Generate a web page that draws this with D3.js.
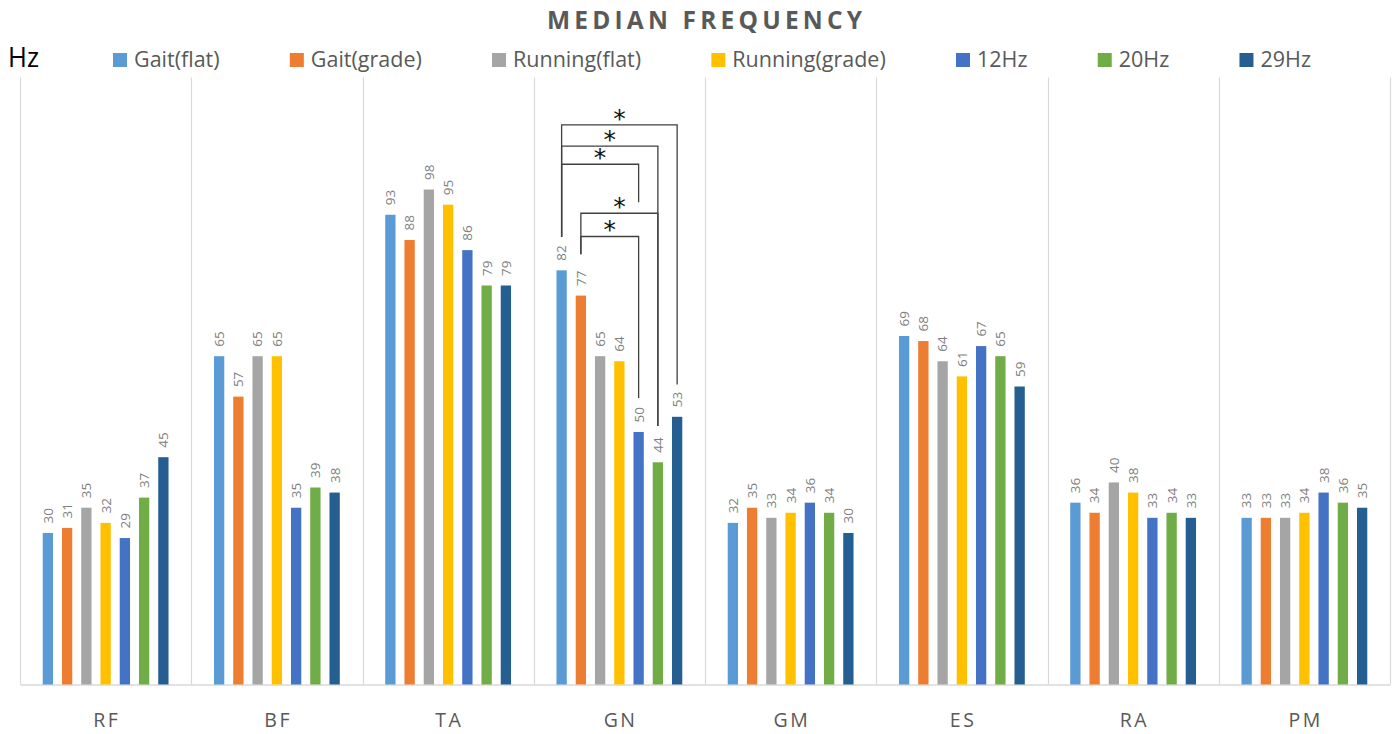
<!DOCTYPE html>
<html>
<head>
<meta charset="utf-8">
<script src="https://cdn.jsdelivr.net/npm/d3@7"></script>
<style>
  html, body { margin: 0; padding: 0; background: #fff; }
  svg { display: block; }
</style>
</head>
<body>
<svg id="chart" width="1397" height="734"></svg>
<script>
// ---------------- data ----------------
const categories = ["RF", "BF", "TA", "GN", "GM", "ES", "RA", "PM"];
const seriesNames = ["Gait(flat)", "Gait(grade)", "Running(flat)", "Running(grade)", "12Hz", "20Hz", "29Hz"];
const seriesColors = ["#5B9BD5", "#ED7D31", "#A5A5A5", "#FFC000", "#4472C4", "#70AD47", "#255E91"];

const gaitFlat      = [30, 65, 93, 82, 32, 69, 36, 33];
const gaitGrade     = [31, 57, 88, 77, 35, 68, 34, 33];
const runningFlat   = [35, 65, 98, 65, 33, 64, 40, 33];
const runningGrade  = [32, 65, 95, 64, 34, 61, 38, 34];
const hz12          = [29, 35, 86, 50, 36, 67, 33, 38];
const hz20          = [37, 39, 79, 44, 34, 65, 34, 36];
const hz29          = [45, 38, 79, 53, 30, 59, 33, 35];
const seriesValues = [gaitFlat, gaitGrade, runningFlat, runningGrade, hz12, hz20, hz29];

const yMax = 120;
const titleText = "MEDIAN FREQUENCY";
const yUnit = "Hz";

// significance brackets in GN (series indices, level and leg ends in Hz units)
const bracketCategory = "GN";
const bracketPairs  = [[0, 6], [0, 5], [0, 4], [1, 5], [1, 4]];
const bracketLevels = [110.8, 106.6, 103.0, 93.3, 88.7];
const bracketLeftEnds  = [88.6, 88.6, 88.6, 85.2, 85.2];
const bracketRightEnds = [59.4, 51.2, 95.5, 51.2, 56.7];
const bracketMark = "*";

// ---------------- layout ----------------
const svg = d3.select("#chart");
const plot = { left: 20, right: 1390, top: 78.4, bottom: 684.5 };
const font = "'Open Sans', 'Noto Sans', sans-serif";

const x0 = d3.scaleBand().domain(categories).range([plot.left, plot.right]).paddingInner(0).paddingOuter(0);
const x1 = d3.scaleBand().domain(d3.range(seriesNames.length)).range([0, x0.bandwidth()])
  .paddingInner(0.465).paddingOuter(1.18);
const y = d3.scaleLinear().domain([0, yMax]).range([plot.bottom, plot.top]);

// vertical separators (category boundaries)
const bounds = categories.map(c => x0(c)).concat([x0(categories[categories.length - 1]) + x0.bandwidth()]);
svg.append("g").selectAll("line").data(bounds).join("line")
  .attr("x1", d => Math.round(d) + 0.5).attr("x2", d => Math.round(d) + 0.5)
  .attr("y1", plot.top - 1).attr("y2", plot.bottom)
  .attr("stroke", "#d9d9d9").attr("stroke-width", 1.2);

// category axis
const xAxis = d3.axisBottom(x0).tickSize(0).tickPadding(0);
const gx = svg.append("g").attr("transform", `translate(0,${plot.bottom})`).call(xAxis);
gx.select(".domain").attr("stroke", "#d9d9d9").attr("stroke-width", 1.5);
gx.selectAll(".tick text")
  .attr("y", 42.5).attr("dy", 0)
  .attr("font-family", font).attr("font-size", 19.5).attr("fill", "#595959")
  .attr("letter-spacing", "2.5px").attr("dx", "1.25px");

// bars
const flat = [];
categories.forEach((c, ci) => seriesNames.forEach((s, si) => flat.push({ c, ci, si, v: seriesValues[si][ci] })));

const gBars = svg.append("g");
gBars.selectAll("rect").data(flat).join("rect")
  .attr("x", d => x0(d.c) + x1(d.si))
  .attr("width", x1.bandwidth())
  .attr("y", d => y(d.v))
  .attr("height", d => y(0) - y(d.v))
  .attr("fill", d => seriesColors[d.si]);

// data labels (rotated)
gBars.selectAll("text").data(flat).join("text")
  .attr("transform", d => `translate(${x0(d.c) + x1(d.si) + x1.bandwidth() / 2},${y(d.v) - 9.5}) rotate(-90)`)
  .attr("dy", "0.36em")
  .attr("text-anchor", "start")
  .attr("font-family", font).attr("font-size", 13.5).attr("fill", "#808080")
  .text(d => Math.round(d.v));

// significance brackets
const bx = si => x0(bracketCategory) + x1(si) + x1.bandwidth() / 2;
const gBr = svg.append("g").attr("fill", "none").attr("stroke", "#404040").attr("stroke-width", 1.3);
bracketPairs.forEach((p, i) => {
  const xa = bx(p[0]), xb = bx(p[1]), ly = y(bracketLevels[i]);
  const path = d3.path();
  path.moveTo(xa, y(bracketLeftEnds[i]));
  path.lineTo(xa, ly);
  path.lineTo(xb, ly);
  path.lineTo(xb, y(bracketRightEnds[i]));
  gBr.append("path").attr("d", path.toString());
  svg.append("text")
    .attr("x", (xa + xb) / 2).attr("y", ly + 2)
    .attr("text-anchor", "middle")
    .attr("font-family", "'DejaVu Sans', sans-serif").attr("font-size", 25).attr("fill", "#111")
    .text(bracketMark);
});

// title
svg.append("text")
  .attr("x", 704.5).attr("y", 28.5)
  .attr("text-anchor", "middle")
  .attr("font-family", font).attr("font-weight", "bold").attr("font-size", 24.5)
  .attr("fill", "#595959")
  .attr("textLength", 315).attr("lengthAdjust", "spacing")
  .text(titleText);

// y unit label
svg.append("text")
  .attr("x", 8).attr("y", 66.5)
  .attr("font-family", font).attr("font-size", 27).attr("fill", "#000")
  .attr("textLength", 31).attr("lengthAdjust", "spacingAndGlyphs")
  .text(yUnit);

// legend
const legend = svg.append("g");
const sq = 14, sqGap = 7;
const items = seriesNames.map((name, i) => {
  const g = legend.append("g");
  g.append("rect").attr("width", sq).attr("height", sq).attr("y", 53).attr("fill", seriesColors[i]);
  const t = g.append("text").attr("x", sq + sqGap).attr("y", 67)
    .attr("font-family", font).attr("font-size", 21.5).attr("fill", "#595959").text(name);
  return { g, w: sq + sqGap + t.node().getComputedTextLength() };
});
const legStart = 113, legEnd = 1311;
const totalW = d3.sum(items, d => d.w);
const gap = (legEnd - legStart - totalW) / (items.length - 1);
let cx = legStart;
items.forEach(it => { it.g.attr("transform", `translate(${cx},0)`); cx += it.w + gap; });
</script>
</body>
</html>
